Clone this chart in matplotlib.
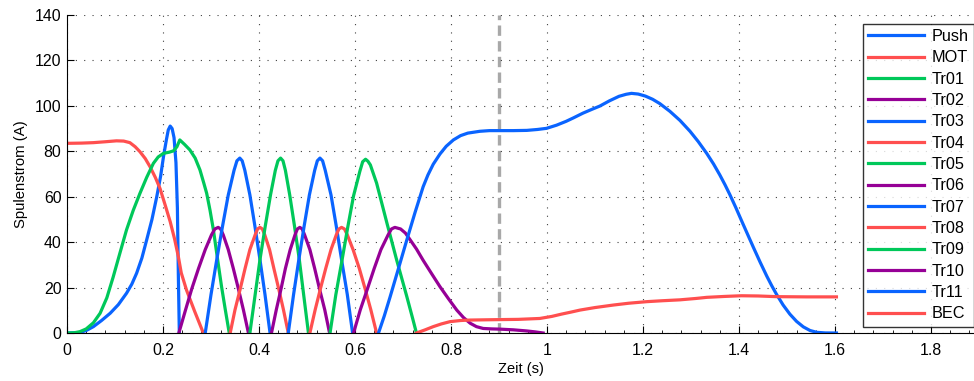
import matplotlib
matplotlib.use("Agg")
import matplotlib.pyplot as plt
from matplotlib.ticker import MultipleLocator

plt.rcParams['font.family'] = ['Liberation Sans', 'DejaVu Sans']

# ---------------------------- data ----------------------------
push_t = [0.0, 0.027, 0.041, 0.055, 0.072, 0.090, 0.107, 0.124, 0.135, 0.145, 0.156, 0.166, 0.177,
          0.187, 0.195, 0.201, 0.207, 0.211, 0.215, 0.219, 0.223, 0.227, 0.230, 0.232, 0.234]
push_i = [0.0, 0.2, 1.2, 2.8, 5.5, 8.7, 12.5, 17.5, 21.5, 26.3, 33.0, 41.0, 50.0,
          60.0, 69.0, 77.6, 85.0, 89.4, 91.1, 90.0, 86.0, 75.0, 55.0, 25.0, 0.0]

mot_t = [0.0, 0.030, 0.055, 0.080, 0.103, 0.118, 0.131, 0.142, 0.152, 0.163, 0.173, 0.184, 0.194,
         0.205, 0.215, 0.224, 0.232, 0.238, 0.249, 0.266, 0.284]
mot_i = [83.5, 83.6, 83.8, 84.2, 84.6, 84.5, 83.8, 82.0, 79.8, 76.8, 73.2, 68.5, 63.5,
         56.0, 49.0, 41.5, 33.6, 26.5, 18.9, 9.5, 0.0]

tr01_t = [0.0, 0.015, 0.027, 0.040, 0.055, 0.069, 0.083, 0.096, 0.110, 0.124, 0.138, 0.152, 0.166,
          0.180, 0.190, 0.201, 0.213, 0.222, 0.229, 0.235, 0.245, 0.256, 0.267, 0.277, 0.285,
          0.291, 0.298, 0.305, 0.314, 0.322, 0.330, 0.338]
tr01_i = [0.0, 0.1, 0.6, 1.8, 4.5, 8.7, 15.5, 24.5, 35.0, 45.4, 54.0, 61.5, 68.5,
          74.7, 77.5, 79.1, 79.6, 80.2, 82.0, 85.0, 83.0, 80.6, 77.0, 71.8, 66.0,
          61.5, 54.0, 45.4, 32.0, 20.4, 10.0, 0.0]

tr02_t = [0.233, 0.247, 0.260, 0.274, 0.288, 0.301, 0.308, 0.315, 0.320, 0.3255, 0.336, 0.3465,
          0.357, 0.3675, 0.378]
tr02_i = [0.0, 10.2, 19.5, 28.4, 36.7, 43.2, 45.8, 46.5, 45.8, 43.2, 36.7, 28.4, 19.5, 10.2, 0.0]

tr03_t = [0.288, 0.300, 0.312, 0.324, 0.336, 0.348, 0.354, 0.360, 0.365, 0.3705, 0.381, 0.3915,
          0.402, 0.4125, 0.423]
tr03_i = [0.0, 16.9, 32.3, 47.0, 60.8, 71.6, 75.8, 77.0, 75.8, 71.6, 60.8, 47.0, 32.3, 16.9, 0.0]

tr04_t = [0.340, 0.350, 0.361, 0.371, 0.381, 0.392, 0.397, 0.402, 0.407, 0.412, 0.422, 0.431,
          0.441, 0.451, 0.461]
tr04_i = [0.0, 10.2, 19.5, 28.4, 36.7, 43.2, 45.8, 46.5, 45.8, 43.2, 36.7, 28.4, 19.5, 10.2, 0.0]

tr05_t = [0.381, 0.392, 0.402, 0.413, 0.424, 0.434, 0.4395, 0.445, 0.450, 0.455, 0.464, 0.474,
          0.484, 0.493, 0.503]
tr05_i = [0.0, 16.9, 32.3, 47.0, 60.8, 71.6, 75.8, 77.0, 75.8, 71.6, 60.8, 47.0, 32.3, 16.9, 0.0]

tr06_t = [0.426, 0.436, 0.446, 0.455, 0.465, 0.475, 0.480, 0.485, 0.490, 0.495, 0.506, 0.516,
          0.526, 0.537, 0.547]
tr06_i = [0.0, 10.2, 19.5, 28.4, 36.7, 43.2, 45.8, 46.5, 45.8, 43.2, 36.7, 28.4, 19.5, 10.2, 0.0]

tr07_t = [0.461, 0.472, 0.483, 0.494, 0.505, 0.516, 0.5215, 0.527, 0.5325, 0.538, 0.550, 0.561,
          0.572, 0.584, 0.595]
tr07_i = [0.0, 16.9, 32.3, 47.0, 60.8, 71.6, 75.8, 77.0, 75.8, 71.6, 60.8, 47.0, 32.3, 16.9, 0.0]

tr08_t = [0.506, 0.517, 0.528, 0.539, 0.550, 0.561, 0.5665, 0.572, 0.578, 0.584, 0.596, 0.609,
          0.621, 0.633, 0.645]
tr08_i = [0.0, 10.2, 19.5, 28.4, 36.7, 43.2, 45.8, 46.5, 45.8, 43.2, 36.7, 28.4, 19.5, 10.2, 0.0]

tr09_t = [0.548, 0.560, 0.573, 0.585, 0.597, 0.610, 0.616, 0.622, 0.627, 0.632, 0.645, 0.667,
          0.687, 0.708, 0.720, 0.728]
tr09_i = [0.0, 16.8, 32.1, 46.7, 60.4, 71.1, 75.4, 76.5, 75.6, 74.0, 66.0, 48.0,
          32.0, 16.0, 6.5, 0.0]

tr10_t = [0.597, 0.611, 0.626, 0.640, 0.654, 0.669, 0.676, 0.683, 0.695, 0.705, 0.715, 0.728,
          0.742, 0.760, 0.777, 0.795, 0.812, 0.826, 0.840, 0.853, 0.867, 0.885, 0.902,
          0.930, 0.958, 0.975, 0.992]
tr10_i = [0.0, 10.2, 19.5, 28.4, 36.7, 43.2, 45.8, 46.5, 45.8, 44.0, 41.0, 37.0,
          32.0, 26.0, 20.4, 15.0, 10.1, 6.8, 4.3, 2.8, 2.0, 1.8, 1.7,
          1.4, 0.9, 0.5, 0.0]

tr11_t = [0.649, 0.661, 0.673, 0.690, 0.708, 0.725, 0.742, 0.752, 0.763, 0.777, 0.790, 0.805,
          0.820, 0.835, 0.860, 0.880, 0.902, 0.930, 0.958, 0.980, 0.999, 1.020, 1.040,
          1.055, 1.075, 1.095, 1.110, 1.130, 1.150, 1.165, 1.176, 1.190, 1.205, 1.220,
          1.235, 1.256, 1.277, 1.298, 1.315, 1.333, 1.347, 1.360, 1.371, 1.381, 1.393,
          1.405, 1.418, 1.430, 1.444, 1.458, 1.468, 1.478, 1.492, 1.506, 1.520, 1.534,
          1.548, 1.562, 1.580, 1.603]
tr11_i = [0.0, 7.5, 15.8, 28.0, 41.0, 53.0, 64.4, 69.6, 74.3, 78.8, 82.2, 85.0,
          86.9, 88.0, 88.8, 89.1, 89.1, 89.1, 89.2, 89.6, 90.1, 91.5, 93.2,
          94.7, 96.8, 98.6, 99.9, 102.2, 104.2, 105.1, 105.5, 105.2, 104.3, 102.9,
          101.0, 97.6, 93.6, 88.8, 84.3, 79.0, 74.4, 69.6, 65.2, 60.9, 55.4,
          49.6, 43.4, 37.7, 31.2, 25.0, 20.9, 17.1, 12.3, 8.3, 5.1, 2.7,
          1.1, 0.3, 0.03, 0.0]

bec_t = [0.728, 0.745, 0.763, 0.780, 0.798, 0.820, 0.840, 0.870, 0.902, 0.940, 0.985, 1.010,
         1.030, 1.050, 1.069, 1.100, 1.138, 1.170, 1.208, 1.240, 1.277, 1.310, 1.333,
         1.370, 1.405, 1.440, 1.478, 1.540, 1.603]
bec_i = [0.0, 1.3, 2.8, 4.0, 5.0, 5.5, 5.7, 5.8, 5.9, 6.0, 6.4, 7.3,
         8.3, 9.2, 10.1, 11.2, 12.3, 13.1, 13.8, 14.2, 14.6, 15.2, 15.7,
         16.1, 16.4, 16.3, 16.0, 15.9, 15.9]

labels = ['Push', 'MOT', 'Tr01', 'Tr02', 'Tr03', 'Tr04', 'Tr05', 'Tr06', 'Tr07',
          'Tr08', 'Tr09', 'Tr10', 'Tr11', 'BEC']
series = [(push_t, push_i), (mot_t, mot_i), (tr01_t, tr01_i), (tr02_t, tr02_i),
          (tr03_t, tr03_i), (tr04_t, tr04_i), (tr05_t, tr05_i), (tr06_t, tr06_i),
          (tr07_t, tr07_i), (tr08_t, tr08_i), (tr09_t, tr09_i), (tr10_t, tr10_i),
          (tr11_t, tr11_i), (bec_t, bec_i)]

blue = '#0a64ff'
red = '#ff4f4f'
green = '#00c85a'
purple = '#960096'
colors = [blue, red, green, purple, blue, red, green, purple, blue, red, green, purple, blue, red]

t_marker = 0.9

# ---------------------------- plot ----------------------------
fig = plt.figure(figsize=(9.74, 3.81), dpi=100)
ax = fig.add_axes([67 / 974, 48 / 381, 907 / 974, 318 / 381])

for (t, i), c, lab in zip(series, colors, labels):
    ax.plot(t, i, color=c, linewidth=2.3, label=lab, solid_joinstyle='round')

ax.axvline(t_marker, color='#a8a8a8', linestyle=(0, (3.1, 1.6)), linewidth=2.4, zorder=1)

ax.set_xlim(0, 1.8896)
ax.set_ylim(0, 140)
ax.xaxis.set_major_locator(MultipleLocator(0.2))
ax.yaxis.set_major_locator(MultipleLocator(20))
ax.xaxis.set_major_formatter(plt.FuncFormatter(lambda v, p: '0' if abs(v) < 1e-9 else f'{v:g}'))
ax.xaxis.set_minor_locator(MultipleLocator(0.04))

ax.grid(True, which='major', linestyle=(0, (1, 6.5)), linewidth=0.8, color='#404040')
ax.tick_params(direction='in', which='both', labelsize=11.4, top=False, right=False)
ax.tick_params(axis='x', which='major', length=5, pad=7)
ax.tick_params(axis='y', which='major', length=5, pad=4)
ax.tick_params(which='minor', length=2.5)
ax.spines['top'].set_visible(False)
ax.spines['right'].set_visible(False)

ax.set_xlabel('Zeit (s)', fontsize=10.5, labelpad=3)
ax.set_ylabel('Spulenstrom (A)', fontsize=10.7, labelpad=5)

leg = ax.legend(loc='upper right', bbox_to_anchor=(0.9995, 0.972), borderaxespad=0,
                fontsize=11.7, handlelength=3.45, handletextpad=0.43, labelspacing=0.39,
                frameon=True, fancybox=False, borderpad=0.32)
leg.get_frame().set_edgecolor('black')
leg.get_frame().set_linewidth(1.0)

fig.savefig('out.png', dpi=100)
